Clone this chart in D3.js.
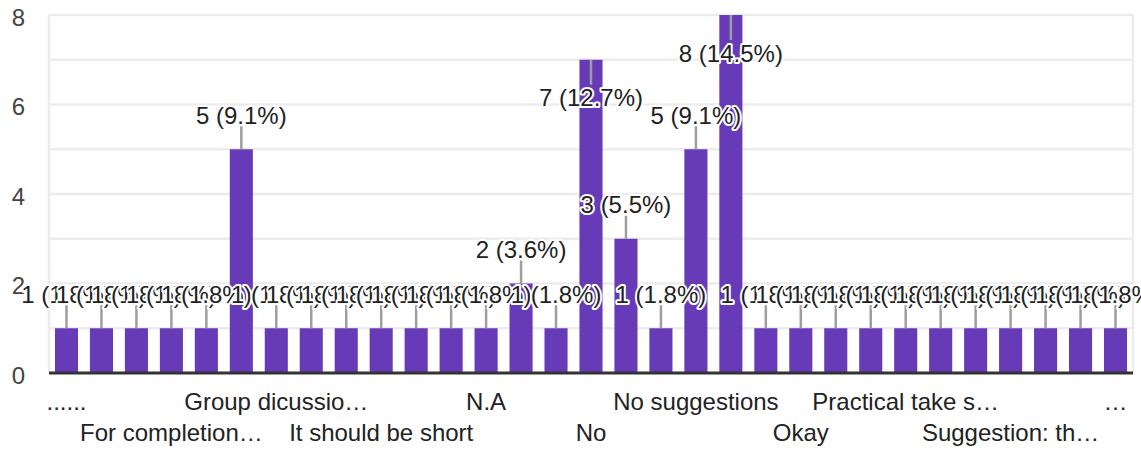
<!DOCTYPE html>
<html><head><meta charset="utf-8">
<script src="https://cdn.jsdelivr.net/npm/d3@7"></script>
<style>body{margin:0;background:#fff}svg{display:block}</style>
</head><body>
<svg id="chart" width="1141" height="450"></svg>
<script>
// Categories (only every third label is readable in the reference; others left blank)
const categories = ["......", "", "", "For completion…", "", "", "Group dicussio…", "", "", "It should be short", "", "",
  "N.A", "", "", "No", "", "", "No suggestions", "", "", "Okay", "", "", "Practical take s…", "", "",
  "Suggestion: th…", "", "", "…"];
const values = [1,1,1,1,1,5,1,1,1,1,1,1,1,2,1,7,3,1,5,8,1,1,1,1,1,1,1,1,1,1,1];
const yTicks = [0,2,4,6,8];
const xTickIdx = [0,3,6,9,12,15,18,21,24,27,30];

const total = d3.sum(values);
const FONT = "'Liberation Sans', Arial, sans-serif";
const FS = 24;

const svg = d3.select("#chart");
const pLeft = 49, pRight = 1133, pTop = 15, pBottom = 373;

const x = d3.scaleBand().domain(d3.range(values.length)).range([pLeft, pRight])
  .paddingInner(0.34).paddingOuter(0.17);
const y = d3.scaleLinear().domain([0, 8]).range([pBottom, pTop]);

// gridlines
svg.append("g").selectAll("line").data(d3.range(1, 9)).join("line")
  .attr("x1", pLeft).attr("x2", pRight)
  .attr("y1", d => y(d)).attr("y2", d => y(d))
  .attr("stroke", "#ececec").attr("stroke-width", 2.5);
svg.append("g").selectAll("line").data([pLeft, pRight]).join("line")
  .attr("x1", d => d).attr("x2", d => d)
  .attr("y1", pTop).attr("y2", pBottom)
  .attr("stroke", "#ececec").attr("stroke-width", 2.5);

// y axis
const yAxis = svg.append("g").attr("transform", "translate(25,0)")
  .call(d3.axisLeft(y).tickValues(yTicks).tickSize(0).tickPadding(0).tickFormat(d3.format("d")));
yAxis.select(".domain").remove();
yAxis.selectAll("text").attr("font-family", FONT).attr("font-size", FS)
  .attr("fill", "#444").attr("dy", "0.42em");

// bars
svg.append("g").selectAll("rect").data(values).join("rect")
  .attr("x", (d, i) => x(i)).attr("width", x.bandwidth())
  .attr("y", d => y(d)).attr("height", d => y(0) - y(d))
  .attr("fill", "#673ab7");

// baseline
svg.append("line").attr("x1", pLeft).attr("x2", pRight)
  .attr("y1", y(0)).attr("y2", y(0)).attr("stroke", "#333").attr("stroke-width", 3);

// x axis
const xAxis = svg.append("g").attr("transform", `translate(0,${y(0)})`)
  .call(d3.axisBottom(x).tickValues(xTickIdx).tickSize(0).tickFormat(i => categories[i]));
xAxis.select(".domain").remove();
xAxis.selectAll("text").attr("font-family", FONT).attr("font-size", FS).attr("fill", "#222")
  .attr("dy", 0).attr("y", (d, k) => k % 2 === 0 ? 37 : 68);

// annotations
const cx = i => x(i) + x.bandwidth() / 2;
const inside = v => y(v) - 40 < pTop + 10;
svg.append("g").selectAll("line").data(values).join("line")
  .attr("x1", (d, i) => cx(i)).attr("x2", (d, i) => cx(i))
  .attr("y1", d => y(d)).attr("y2", d => inside(d) ? y(d) + 25 : y(d) - 23)
  .attr("stroke", "#9e9e9e").attr("stroke-width", 2.5);
svg.append("g").selectAll("text").data(values).join("text")
  .attr("x", (d, i) => cx(i))
  .attr("y", d => inside(d) ? y(d) + 46.5 : y(d) - 25.5)
  .attr("text-anchor", "middle")
  .attr("font-family", FONT).attr("font-size", FS).attr("fill", "#222")
  .attr("stroke", "#fff").attr("stroke-width", 4).attr("stroke-linejoin", "round")
  .attr("paint-order", "stroke")
  .text(d => `${d} (${(d / total * 100).toFixed(1)}%)`);
</script>
</body></html>
